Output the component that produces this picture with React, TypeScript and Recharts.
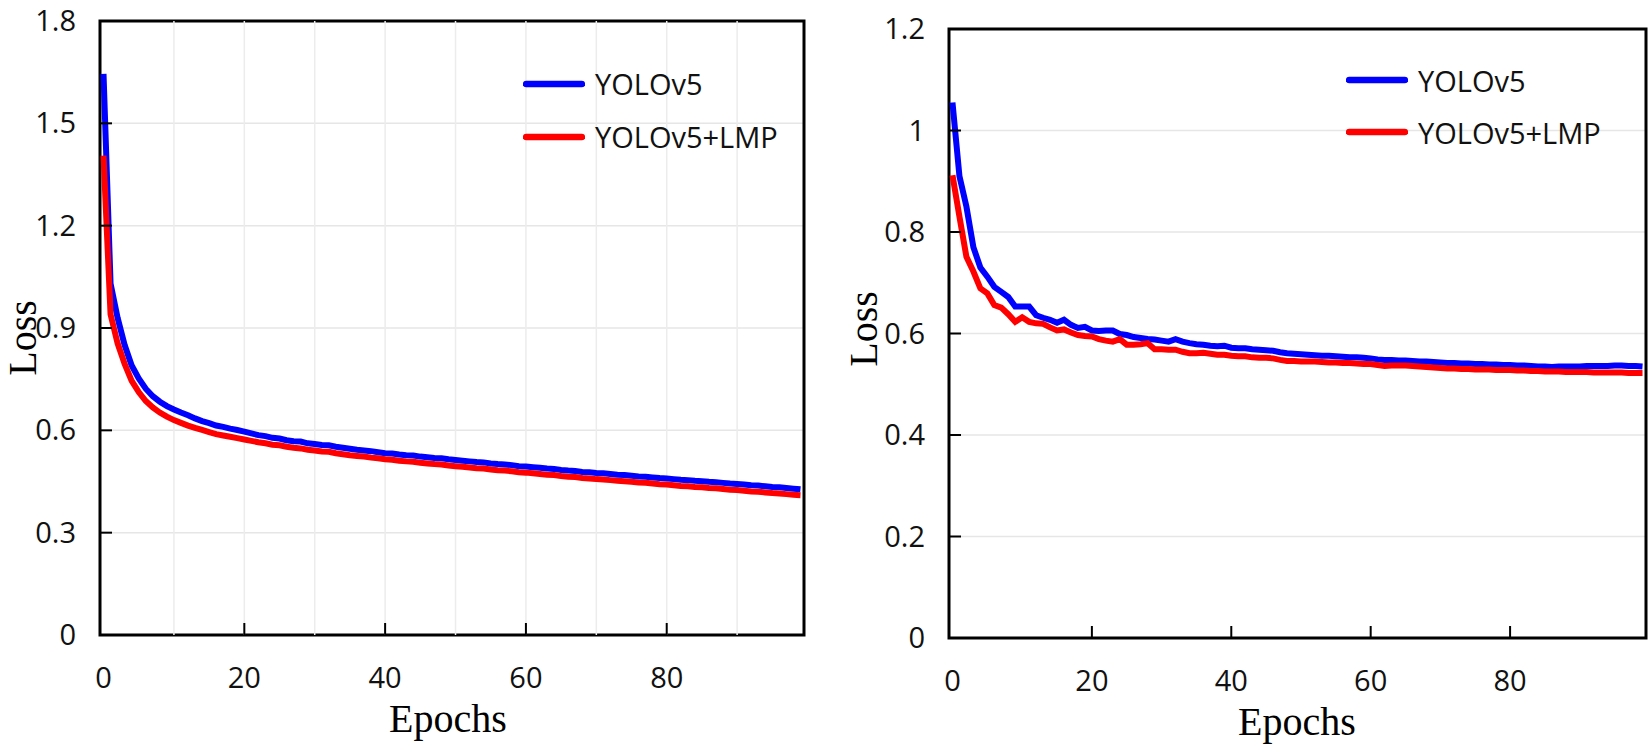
import React from "react";
import {
  LineChart,
  Line,
  XAxis,
  YAxis,
  CartesianGrid,
  Legend,
  ReferenceLine,
  ReferenceArea
} from "recharts";

// epochs 0..99 (x categories)
const epochs = Array.from({length: 100}, (_, i) => i);

const xTicks = [0, 20, 40, 60, 80];
const leftGridX = [10, 20, 30, 40, 50, 60, 70, 80, 90];
const leftYTicks = [0, 0.3, 0.6, 0.9, 1.2, 1.5, 1.8];
const rightYTicks = [0, 0.2, 0.4, 0.6, 0.8, 1, 1.2];

// left panel
const leftYolo = [
  1.645, 1.030, 0.930, 0.850, 0.790, 0.752, 0.722, 0.700, 0.684, 0.671,
  0.661, 0.652, 0.644, 0.635, 0.627, 0.621, 0.614, 0.610, 0.605, 0.601,
  0.596, 0.591, 0.586, 0.583, 0.578, 0.576, 0.571, 0.568, 0.567, 0.562,
  0.560, 0.557, 0.556, 0.552, 0.549, 0.546, 0.543, 0.541, 0.539, 0.536,
  0.533, 0.532, 0.529, 0.527, 0.526, 0.523, 0.521, 0.519, 0.518, 0.515,
  0.513, 0.511, 0.509, 0.507, 0.506, 0.503, 0.501, 0.500, 0.498, 0.495,
  0.494, 0.492, 0.490, 0.488, 0.487, 0.484, 0.482, 0.481, 0.478, 0.477,
  0.475, 0.474, 0.472, 0.470, 0.469, 0.467, 0.465, 0.464, 0.462, 0.460,
  0.459, 0.457, 0.455, 0.454, 0.452, 0.451, 0.449, 0.448, 0.446, 0.444,
  0.443, 0.441, 0.439, 0.438, 0.436, 0.434, 0.433, 0.431, 0.429, 0.427
];
const leftLmp = [
  1.405, 0.940, 0.855, 0.795, 0.745, 0.712, 0.686, 0.667, 0.652, 0.640,
  0.630, 0.622, 0.614, 0.607, 0.601, 0.595, 0.589, 0.585, 0.581, 0.577,
  0.573, 0.569, 0.565, 0.562, 0.558, 0.556, 0.552, 0.549, 0.547, 0.543,
  0.541, 0.538, 0.537, 0.533, 0.530, 0.527, 0.525, 0.523, 0.520, 0.518,
  0.515, 0.514, 0.511, 0.509, 0.508, 0.505, 0.503, 0.501, 0.500, 0.497,
  0.495, 0.493, 0.491, 0.489, 0.488, 0.485, 0.483, 0.482, 0.480, 0.477,
  0.476, 0.474, 0.472, 0.470, 0.469, 0.466, 0.464, 0.463, 0.460, 0.459,
  0.457, 0.456, 0.454, 0.452, 0.451, 0.449, 0.447, 0.446, 0.444, 0.442,
  0.441, 0.439, 0.437, 0.436, 0.434, 0.433, 0.431, 0.430, 0.428, 0.426,
  0.425, 0.423, 0.421, 0.420, 0.418, 0.416, 0.415, 0.413, 0.411, 0.410
];

// right panel
const rightYolo = [
  1.055, 0.910, 0.850, 0.770, 0.730, 0.712, 0.692, 0.682, 0.672, 0.653,
  0.653, 0.653, 0.636, 0.631, 0.627, 0.621, 0.627, 0.617, 0.611, 0.613,
  0.606, 0.605, 0.606, 0.606, 0.599, 0.597, 0.593, 0.591, 0.589, 0.588,
  0.586, 0.584, 0.589, 0.584, 0.581, 0.579, 0.578, 0.576, 0.575, 0.576,
  0.572, 0.571, 0.571, 0.569, 0.568, 0.567, 0.566, 0.563, 0.561, 0.560,
  0.559, 0.558, 0.557, 0.556, 0.556, 0.555, 0.554, 0.553, 0.553, 0.552,
  0.551, 0.549, 0.548, 0.548, 0.547, 0.547, 0.546, 0.545, 0.545, 0.544,
  0.543, 0.542, 0.542, 0.541, 0.541, 0.540, 0.540, 0.539, 0.539, 0.538,
  0.538, 0.537, 0.537, 0.536, 0.535, 0.535, 0.534, 0.535, 0.535, 0.535,
  0.535, 0.536, 0.536, 0.536, 0.536, 0.537, 0.537, 0.536, 0.536, 0.535
];
const rightLmp = [
  0.912, 0.830, 0.751, 0.722, 0.689, 0.679, 0.656, 0.651, 0.638, 0.623,
  0.632, 0.623, 0.620, 0.619, 0.612, 0.606, 0.608, 0.602, 0.597, 0.595,
  0.594, 0.589, 0.586, 0.584, 0.589, 0.578, 0.578, 0.579, 0.581, 0.569,
  0.569, 0.568, 0.568, 0.564, 0.561, 0.561, 0.562, 0.560, 0.558, 0.558,
  0.556, 0.555, 0.555, 0.553, 0.552, 0.552, 0.551, 0.548, 0.546, 0.546,
  0.545, 0.545, 0.545, 0.544, 0.543, 0.543, 0.542, 0.542, 0.541, 0.540,
  0.540, 0.538, 0.536, 0.537, 0.537, 0.537, 0.536, 0.535, 0.534, 0.533,
  0.532, 0.531, 0.531, 0.530, 0.530, 0.529, 0.529, 0.529, 0.528, 0.528,
  0.528, 0.527, 0.527, 0.526, 0.526, 0.525, 0.525, 0.525, 0.524, 0.524,
  0.524, 0.524, 0.523, 0.523, 0.523, 0.523, 0.523, 0.522, 0.522, 0.522
];

const leftData = epochs.map((e, i) => ({epoch: e, yolo: leftYolo[i], lmp: leftLmp[i]}));
const rightData = epochs.map((e, i) => ({epoch: e, yolo: rightYolo[i], lmp: rightLmp[i]}));

const SANS = "'Open Sans', sans-serif";
const SERIF = "'Liberation Serif', 'Times New Roman', serif";

// x tick: label below axis, small tick mark pointing into the plot
const renderXTick = (props: any) => {
  const {x, y, payload} = props;
  return (
    <g>
      {payload.value > 0 && (
        <line x1={x} x2={x} y1={y} y2={y - 12} stroke="#000" strokeWidth={2} />
      )}
      <text x={x} y={y + 53} textAnchor="middle" fontFamily={SANS} fontSize={29} fill="#111">
        {payload.value}
      </text>
    </g>
  );
};

const renderYTick = (props: any) => {
  const {x, y, payload} = props;
  return (
    <g>
      {payload.value > 0 && (
        <line x1={x} x2={x + 12} y1={y} y2={y} stroke="#000" strokeWidth={2} />
      )}
      <text x={x - 24} y={y + 10} textAnchor="end" fontFamily={SANS} fontSize={29} fill="#111">
        {String(payload.value)}
      </text>
    </g>
  );
};

const YTitle = ({cx, cy}: any) => (
  <text
    x={cx}
    y={cy}
    transform={`rotate(-90 ${cx} ${cy})`}
    textAnchor="middle"
    dominantBaseline="central"
    fontFamily={SERIF}
    fontSize={40}
    fill="#000"
  >
    Loss
  </text>
);

const XTitle = ({cx, cy}: any) => (
  <text x={cx} y={cy} textAnchor="middle" fontFamily={SERIF} fontSize={40} fill="#000">
    Epochs
  </text>
);

const renderLegend = (rowHeight: number) => (props: any) => {
  const {payload} = props;
  return (
    <div>
      {(payload || []).map((entry: any) => (
        <div
          key={entry.value}
          style={{display: "flex", alignItems: "center", height: rowHeight}}
        >
          <svg width={62} height={8} style={{display: "block"}}>
            <line x1={3} x2={59} y1={4} y2={4} stroke={entry.color} strokeWidth={6.5} strokeLinecap="round" />
          </svg>
          <span style={{marginLeft: 10, fontFamily: SANS, fontSize: 29, color: "#111", lineHeight: 1}}>
            {entry.value}
          </span>
        </div>
      ))}
    </div>
  );
};

export default function App() {
  return (
    <div style={{position: "absolute", left: 0, top: 0, width: 1652, height: 755, background: "#fff"}}>
      {/* Left panel */}
      <div style={{position: "absolute", left: 0, top: 0}}>
        <LineChart width={812} height={755} data={leftData} margin={{top: 21, right: 8, bottom: 0, left: 0}}>
          <CartesianGrid vertical={false} stroke="#e6e6e6" strokeWidth={1.5} />
          {leftGridX.map((v) => (
            <ReferenceLine key={v} x={v} stroke="#ececec" strokeWidth={1.5} />
          ))}
          <XAxis
            dataKey="epoch"
            type="number"
            domain={[-0.5, 99.5]}
            ticks={xTicks}
            interval={0}
            height={120}
            axisLine={false}
            tickLine={false}
            tickSize={0}
            tickMargin={0}
            tick={renderXTick}
            label={<XTitle cx={448} cy={732} />}
          />
          <YAxis
            type="number"
            domain={[0, 1.8]}
            ticks={leftYTicks}
            interval={0}
            width={100}
            axisLine={false}
            tickLine={false}
            tickSize={0}
            tickMargin={0}
            tick={renderYTick}
            label={<YTitle cx={22} cy={338} />}
          />
          <Legend
            layout="vertical"
            align="center"
            verticalAlign="middle"
            content={renderLegend(53)}
            wrapperStyle={{left: 523, top: 57, width: 280, bottom: "auto"}}
          />
          <Line type="linear" dataKey="yolo" name="YOLOv5" stroke="#0000ff" strokeWidth={6} dot={false} isAnimationActive={false} />
          <Line type="linear" dataKey="lmp" name="YOLOv5+LMP" stroke="#ff0000" strokeWidth={6} dot={false} isAnimationActive={false} />
          <ReferenceArea x1={-0.5} x2={99.5} y1={0} y2={1.8} fill="none" stroke="#000" strokeWidth={3} />
        </LineChart>
      </div>

      {/* Right panel */}
      <div style={{position: "absolute", left: 826, top: 0}}>
        <LineChart width={826} height={755} data={rightData} margin={{top: 29, right: 6, bottom: 0, left: 0}}>
          <CartesianGrid vertical={false} stroke="#e6e6e6" strokeWidth={1.5} />
          <XAxis
            dataKey="epoch"
            type="number"
            domain={[-0.5, 99.5]}
            ticks={xTicks}
            interval={0}
            height={117}
            axisLine={false}
            tickLine={false}
            tickSize={0}
            tickMargin={0}
            tick={renderXTick}
            label={<XTitle cx={471} cy={735} />}
          />
          <YAxis
            type="number"
            domain={[0, 1.2]}
            ticks={rightYTicks}
            interval={0}
            width={123}
            axisLine={false}
            tickLine={false}
            tickSize={0}
            tickMargin={0}
            tick={renderYTick}
            label={<YTitle cx={37} cy={329} />}
          />
          <Legend
            layout="vertical"
            align="center"
            verticalAlign="middle"
            content={renderLegend(52)}
            wrapperStyle={{left: 520, top: 54, width: 290, bottom: "auto"}}
          />
          <Line type="linear" dataKey="yolo" name="YOLOv5" stroke="#0000ff" strokeWidth={6} dot={false} isAnimationActive={false} />
          <Line type="linear" dataKey="lmp" name="YOLOv5+LMP" stroke="#ff0000" strokeWidth={6} dot={false} isAnimationActive={false} />
          <ReferenceArea x1={-0.5} x2={99.5} y1={0} y2={1.2} fill="none" stroke="#000" strokeWidth={3} />
        </LineChart>
      </div>
    </div>
  );
}
